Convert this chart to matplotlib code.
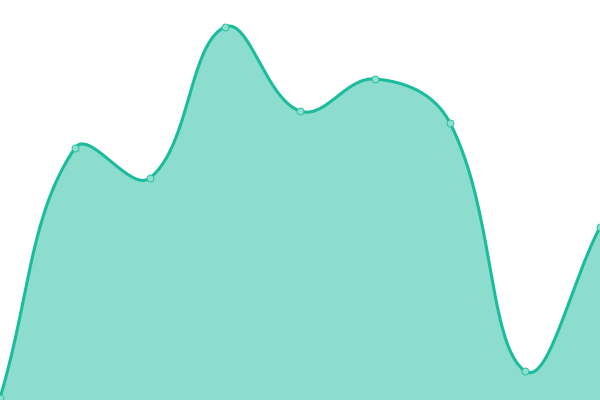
import matplotlib
matplotlib.use('Agg')
import matplotlib.pyplot as plt
import numpy as np

# values (0 = bottom edge, 400 = top edge)
labels = ['1', '2', '3', '4', '5', '6', '7', '8', '9']
values = [2, 252, 222, 373, 289, 321, 277, 29, 173]

line_color = '#1abc9c'
fill_color = (26/255, 188/255, 156/255, 0.5)
point_face = '#8cdfcf'
tension = 0.4


def spline(px, py, t=0.4, steps=40):
    # chart.js style bezier spline, worked out in pixel space
    n = len(px)
    cps = []
    for i in range(n):
        p0 = np.array([px[max(i-1, 0)], py[max(i-1, 0)]])
        p1 = np.array([px[i], py[i]])
        p2 = np.array([px[min(i+1, n-1)], py[min(i+1, n-1)]])
        d01 = np.hypot(*(p1 - p0))
        d12 = np.hypot(*(p2 - p1))
        s01 = d01 / (d01 + d12) if d01 + d12 else 0
        s12 = d12 / (d01 + d12) if d01 + d12 else 0
        cps.append((p1 - t*s01*(p2 - p0), p1 + t*s12*(p2 - p0)))
    xs, ys = [px[0]], [py[0]]
    u = np.linspace(0, 1, steps)[1:]
    for i in range(n-1):
        a = np.array([px[i], py[i]])
        b = cps[i][1]
        c = cps[i+1][0]
        d = np.array([px[i+1], py[i+1]])
        pts = ((1-u)**3)[:, None]*a + (3*(1-u)**2*u)[:, None]*b + (3*(1-u)*u**2)[:, None]*c + (u**3)[:, None]*d
        xs.extend(pts[:, 0])
        ys.extend(pts[:, 1])
    return np.array(xs), np.array(ys)


fig = plt.figure(figsize=(6, 4), dpi=100)
ax = fig.add_axes([0, 0, 1, 1])
ax.set_xlim(0, len(values) - 1)
ax.set_ylim(0, 400)
ax.axis('off')

x = np.arange(len(values))
disp = ax.transData.transform(np.column_stack([x, values]))
sx, sy = spline(disp[:, 0], disp[:, 1], tension)
curve = ax.transData.inverted().transform(np.column_stack([sx, sy]))

ax.fill_between(curve[:, 0], curve[:, 1], 0, color=fill_color, lw=0)
ax.plot(curve[:, 0], curve[:, 1], color=line_color, lw=2.2, solid_capstyle='round')
ax.plot(x, values, 'o', ms=5, mfc=point_face, mec=line_color, mew=0.6, clip_on=False)

fig.savefig('out.png', dpi=100)
